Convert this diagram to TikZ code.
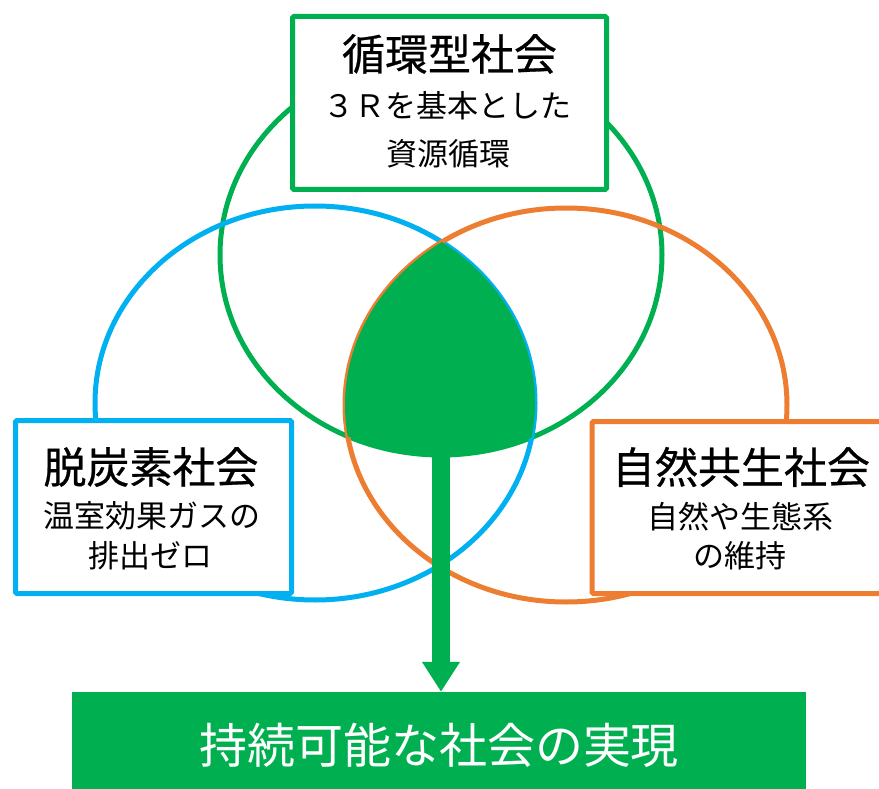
\documentclass[tikz,border=0pt]{standalone}
\usepackage{fontspec}
\setmainfont{Noto Sans CJK JP}
\newfontfamily\headfont{Noto Sans CJK JP}[FakeBold=0.6]
\usetikzlibrary{arrows.meta,positioning}

\definecolor{cyclegreen}{HTML}{00B050}
\definecolor{carbonblue}{HTML}{00B0F0}
\definecolor{natureorange}{HTML}{ED7D31}

\tikzset{
  ring/.style={line width=5pt},
  panel/.style={draw=#1, line width=5pt, fill=white, inner sep=0pt, rounded corners=1.5pt},
  headline/.style={inner sep=0pt, font=\headfont\fontsize{43}{50}\selectfont},
  subline/.style={inner sep=0pt, font=\fontsize{31}{36}\selectfont},
}

\begin{document}
\begin{tikzpicture}[x=1pt,y=-1pt]
  \useasboundingbox (0,0) rectangle (879,789);
  % three societies
  \draw[ring, cyclegreen] (441,255) ellipse [x radius=221, y radius=200];
  \draw[ring, carbonblue] (315,403) ellipse [x radius=220, y radius=197];
  \draw[ring, natureorange] (566,405) ellipse [x radius=221, y radius=197];
  % overlap of all three
  \begin{scope}
    \clip (315,403) ellipse [x radius=220, y radius=197];
    \clip (566,405) ellipse [x radius=221, y radius=197];
    \fill[cyclegreen] (441,255) ellipse [x radius=221, y radius=200];
  \end{scope}
  \coordinate (lensbot) at (441,452);

  % boxes
  \node[panel=cyclegreen, minimum width=314pt, minimum height=173pt] (cycle) at (449.5,103) {};
  \node[panel=carbonblue, minimum width=276pt, minimum height=173pt] (carbon) at (153.5,507) {};
  \node[panel=natureorange, minimum width=330pt, minimum height=172pt] (nature) at (757,507.5) {};

  \node[headline] (cycletitle) at (449.5,54) {循環型社会};
  \node[subline] (cyclesub1) at (447,106) {３Ｒを基本とした};
  \node[subline] (cyclesub2) at (448,154) {資源循環};

  \node[headline] (carbontitle) at (151,467) {脱炭素社会};
  \node[subline] (carbonsub1) at (152,516) {温室効果ガスの};
  \node[subline] (carbonsub2) at (150,556) {排出ゼロ};

  \node[headline] (naturetitle) at (741,467) {自然共生社会};
  \node[subline] (naturesub1) at (740,517) {自然や生態系};
  \node[subline] (naturesub2) at (740,556) {の維持};

  % goal
  \node[fill=cyclegreen, text=white, minimum width=734pt, minimum height=106pt,
        inner sep=0pt, font=\fontsize{48}{56}\selectfont] (goal) at (439,745) {持続可能な社会の実現};
  \draw[cyclegreen, line width=18pt, -{Triangle[length=30pt, width=36pt]}] (lensbot) -- (goal.north -| lensbot);
\end{tikzpicture}
\end{document}
